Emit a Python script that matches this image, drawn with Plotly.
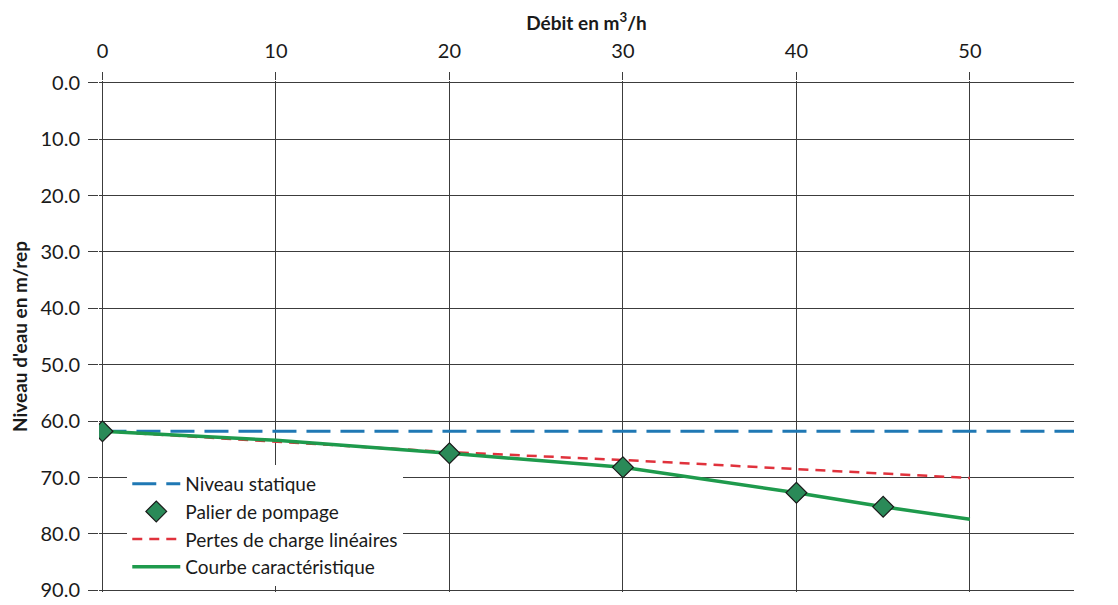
import plotly.graph_objects as go

# Débit (m3/h) et niveaux d'eau (m/rep)
debit_statique = [0, 56]
niveau_statique = [61.8, 61.8]

debit_paliers = [0, 20, 30, 40, 45]
niveau_paliers = [61.8, 65.7, 68.2, 72.7, 75.2]

debit_pertes = [0, 20, 30, 40, 50]
niveau_pertes = [61.8, 65.5, 66.9, 68.5, 70.1]

debit_courbe = [0, 10, 20, 30, 40, 45, 50]
niveau_courbe = [61.8, 63.4, 65.7, 68.2, 72.7, 75.2, 77.4]

FONT = "Lato"
GRID = "#3c3c3c"

fig = go.Figure()

fig.add_trace(go.Scatter(
    x=debit_statique, y=niveau_statique,
    mode='lines',
    name='Niveau statique',
    legendrank=1,
    line=dict(color='#1f78b4', width=3, dash='24px,10px')))

fig.add_trace(go.Scatter(
    x=debit_pertes, y=niveau_pertes,
    mode='lines',
    name='Pertes de charge linéaires',
    legendrank=3,
    line=dict(color='#e0323c', width=2.5, dash='10px,7px')))

fig.add_trace(go.Scatter(
    x=debit_courbe, y=niveau_courbe,
    mode='lines',
    name='Courbe caractéristique',
    legendrank=4,
    line=dict(color='#1e9a4c', width=3.5)))

fig.add_trace(go.Scatter(
    x=debit_paliers, y=niveau_paliers,
    mode='markers',
    name='Palier de pompage',
    legendrank=2,
    marker=dict(symbol='diamond', size=16, color='#2a8a58',
                line=dict(color='#1a1a1a', width=1.2))))

# la page html ajoute une marge de 8px autour du graphique
fig.update_layout(
    width=1118, height=605,
    margin=dict(l=91, r=52, t=73, b=21),
    paper_bgcolor='white',
    plot_bgcolor='white',
    font=dict(family=FONT, size=20, color='#1a1a1a'),
    showlegend=True,
    legend=dict(
        x=0.029, y=0.012, xanchor='left', yanchor='bottom',
        bgcolor='white',
        font=dict(family=FONT, size=19),
        traceorder='normal',
        itemwidth=48,
        tracegroupgap=0),
    xaxis=dict(
        side='top',
        range=[-0.2, 56],
        tickmode='array',
        tickvals=[0, 10, 20, 30, 40, 50],
        showgrid=True, gridcolor=GRID, gridwidth=1.4,
        ticks='outside', ticklen=8, tickcolor=GRID, tickwidth=1.4,
        ticklabelstandoff=6,
        zeroline=False,
        automargin=False,
        title=dict(text='<b>Débit en m<sup>3</sup>/h</b>', standoff=2,
                   font=dict(family=FONT, size=19))),
    yaxis=dict(
        range=[90.3, -0.3],
        tickmode='array',
        tickvals=[0, 10, 20, 30, 40, 50, 60, 70, 80, 90],
        tickformat='.1f',
        showgrid=True, gridcolor=GRID, gridwidth=1.4,
        ticks='outside', ticklen=10, tickcolor=GRID, tickwidth=1.4,
        ticklabelstandoff=4,
        zeroline=False,
        automargin=False,
        title=dict(text="<b>Niveau d'eau en m/rep</b>", standoff=8,
                   font=dict(family=FONT, size=19))),
)

fig.write_html("out.html")
